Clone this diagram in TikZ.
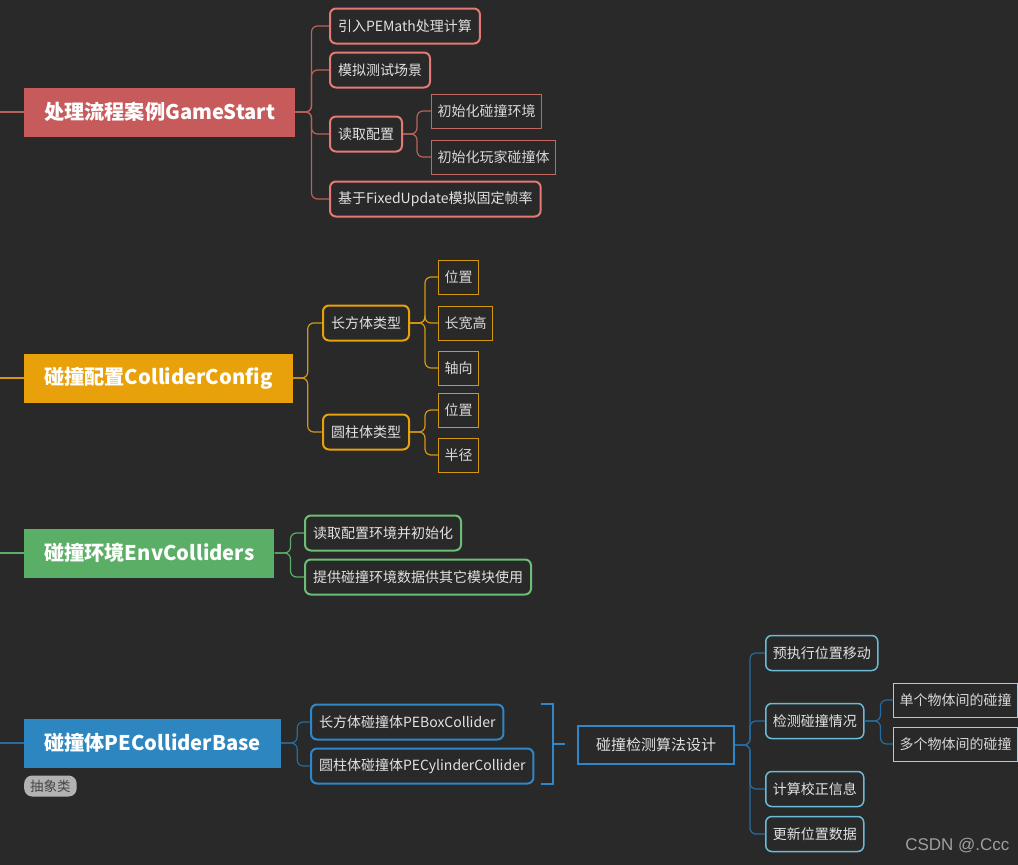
\documentclass[tikz,border=0pt]{standalone}
\usepackage{fontspec}
\setmainfont{Noto Sans CJK SC}
\newfontfamily\wmfont{Liberation Sans}
\definecolor{bgdark}{HTML}{292929}
\definecolor{txtlight}{HTML}{E2E2E2}
\definecolor{redfill}{HTML}{C75B5B}
\definecolor{redline}{HTML}{E57A72}
\definecolor{orangefill}{HTML}{E8A10A}
\definecolor{orangeline}{HTML}{D49712}
\definecolor{greenfill}{HTML}{5BAE66}
\definecolor{greenline}{HTML}{6CBD75}
\definecolor{bluefill}{HTML}{2E86C1}
\definecolor{blueline}{HTML}{2F87C9}
\definecolor{cyanline}{HTML}{6BBAD6}
\definecolor{paleline}{HTML}{A6CFE0}
\begin{document}
\begin{tikzpicture}[
    x=1pt, y=-1pt,
    topic/.style={
        rectangle,
        text=white,
        font=\bfseries\fontsize{20.2}{24}\selectfont,
        minimum height=49,
        inner xsep=20,
        anchor=west
    },
    sub/.style={
        rectangle,
        rounded corners=6,
        line width=2,
        fill=bgdark,
        text=txtlight,
        font=\fontsize{14}{16}\selectfont,
        minimum height=35,
        inner xsep=8,
        anchor=west
    },
    leaf/.style={
        rectangle,
        line width=1,
        fill=bgdark,
        text=txtlight!90!gray,
        font=\fontsize{14}{16}\selectfont,
        minimum height=34,
        inner xsep=6,
        anchor=west
    },
    link/.style={rounded corners=6, line width=1.2}
]
\useasboundingbox (0,0) rectangle (1018,865);
\fill[bgdark] (0,0) rectangle (1018,865);

% GameStart branch
\node[topic, fill=redfill] (gs) at (24,112) {处理流程案例GameStart};
\node[sub, draw=redline] (r1) at (329,26) {引入PEMath处理计算};
\node[sub, draw=redline] (r2) at (329,70) {模拟测试场景};
\node[sub, draw=redline] (r3) at (329,134) {读取配置};
\node[sub, draw=redline] (r4) at (329,199) {基于FixedUpdate模拟固定帧率};
\node[leaf, draw=redline!85!black] (r31) at (431,111) {初始化碰撞环境};
\node[leaf, draw=redline!85!black] (r32) at (431,157) {初始化玩家碰撞体};
\coordinate (gs0) at (0,112);
\draw[link, redline!80!black] (gs0) -- (gs.west);
\foreach \c in {r1,r2,r3,r4}
    \draw[link, redline!80!black] (gs.east) -- ++(16,0) |- (\c.west);
\foreach \c in {r31,r32}
    \draw[link, redline!80!black] (r3.east) -- ++(14,0) |- (\c.west);

% ColliderConfig branch
\node[topic, fill=orangefill] (cc) at (24,378) {碰撞配置ColliderConfig};
\node[sub, draw=orangefill] (o1) at (322,323) {长方体类型};
\node[sub, draw=orangefill] (o2) at (322,432) {圆柱体类型};
\node[leaf, draw=orangeline] (o11) at (438,277) {位置};
\node[leaf, draw=orangeline] (o12) at (438,323) {长宽高};
\node[leaf, draw=orangeline] (o13) at (438,368) {轴向};
\node[leaf, draw=orangeline] (o21) at (438,410) {位置};
\node[leaf, draw=orangeline] (o22) at (438,455) {半径};
\coordinate (cc0) at (0,378);
\draw[link, orangeline] (cc0) -- (cc.west);
\foreach \c in {o1,o2}
    \draw[link, orangeline] (cc.east) -- ++(15,0) |- (\c.west);
\foreach \c in {o11,o12,o13}
    \draw[link, orangeline] (o1.east) -- ++(15,0) |- (\c.west);
\foreach \c in {o21,o22}
    \draw[link, orangeline] (o2.east) -- ++(15,0) |- (\c.west);

% EnvColliders branch
\node[topic, fill=greenfill] (ec) at (24,553) {碰撞环境EnvColliders};
\node[sub, draw=greenline] (g1) at (304,533) {读取配置环境并初始化};
\node[sub, draw=greenline] (g2) at (304,577) {提供碰撞环境数据供其它模块使用};
\coordinate (ec0) at (0,553);
\draw[link, greenfill] (ec0) -- (ec.west);
\foreach \c in {g1,g2}
    \draw[link, greenfill] (ec.east) -- ++(16,0) |- (\c.west);

% PEColliderBase branch
\node[topic, fill=bluefill] (cb) at (24,743) {碰撞体PEColliderBase};
\node[rectangle, rounded corners=8, fill=gray!60, text=gray!55!black,
    font=\fontsize{13.5}{15}\selectfont, minimum height=21, inner xsep=6,
    anchor=west] (tag) at (24,786) {抽象类};
\node[sub, draw=blueline] (b1) at (310,722) {长方体碰撞体PEBoxCollider};
\node[sub, draw=blueline] (b2) at (310,766) {圆柱体碰撞体PECylinderCollider};
\coordinate (cb0) at (0,743);
\draw[link, blueline!80!black] (cb0) -- (cb.west);
\foreach \c in {b1,b2}
    \draw[link, blueline!80!black] (cb.east) -- ++(16,0) |- (\c.west);

% summary bracket
\coordinate (k1) at (541,704);
\coordinate (k2) at (541,784);
\coordinate (km) at (553,744);
\coordinate (kt) at (565,744);
\draw[blueline, line width=2] (k1) -| (km) |- (k2);
\draw[blueline, line width=2] (km) -- (kt);

% collision algorithm
\node[sub, rounded corners=0, draw=blueline, font=\fontsize{15}{17}\selectfont,
    minimum height=38, inner xsep=18] (alg) at (577,745) {碰撞检测算法设计};
\node[sub, line width=1.5, draw=cyanline, inner xsep=7] (a1) at (765,653) {预执行位置移动};
\node[sub, line width=1.5, draw=cyanline, inner xsep=7] (a2) at (765,721) {检测碰撞情况};
\node[sub, line width=1.5, draw=cyanline, inner xsep=7] (a3) at (765,789) {计算校正信息};
\node[sub, line width=1.5, draw=cyanline, inner xsep=7] (a4) at (765,834) {更新位置数据};
\node[leaf, draw=paleline] (a21) at (893,700) {单个物体间的碰撞};
\node[leaf, draw=paleline] (a22) at (893,744) {多个物体间的碰撞};
\foreach \c in {a1,a2,a3,a4}
    \draw[link, blueline!80!black] (alg.east) -- ++(15,0) |- (\c.west);
\foreach \c in {a21,a22}
    \draw[link, blueline!80!black] (a2.east) -- ++(16,0) |- (\c.west);

\node[anchor=east, text=gray!75, font=\wmfont\fontsize{17}{20}\selectfont] (wm) at (1013,846) {CSDN @.Ccc};
\end{tikzpicture}
\end{document}
